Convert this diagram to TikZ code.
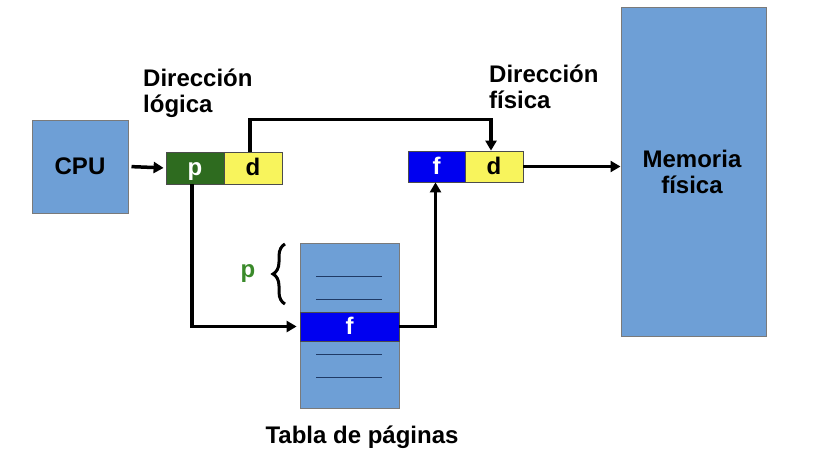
\documentclass[tikz,border=0pt]{standalone}
\usepackage{fontspec}
\setmainfont{Liberation Sans}
\usetikzlibrary{arrows.meta,decorations.pathreplacing}
\definecolor{boxblue}{HTML}{6E9FD6}
\definecolor{boxedge}{HTML}{7A7A7A}
\definecolor{pgreen}{HTML}{2E6B1F}
\definecolor{dyellow}{HTML}{F8F45C}
\definecolor{fblue}{HTML}{0000F0}
\definecolor{rowline}{HTML}{1F3A66}
\definecolor{lblgreen}{HTML}{3A8A2A}
\tikzset{
  big/.style={font=\fontsize{24}{26}\selectfont\bfseries},
  bluebox/.style={draw=boxedge, line width=1pt, fill=boxblue, inner sep=0pt},
  cell/.style={draw=black!70, line width=0.8pt, minimum width=58pt, minimum height=32pt, inner sep=0pt, big, text height=17pt, text depth=2pt},
  conn/.style={line width=3.5pt, black},
  arr/.style={conn, -{Triangle[length=10pt,width=11pt]}},
  lbl/.style={big, inner sep=0pt, align=left}
}
\begin{document}
\begin{tikzpicture}[x=1pt,y=-1pt]
\useasboundingbox (0,0) rectangle (820,466);
% boxes
\node[bluebox, minimum width=96pt, minimum height=93pt, big] (cpu) at (80,166.5) {CPU};
\node[bluebox, minimum width=145pt, minimum height=329pt] (mem) at (693.5,171.5) {};
\node[big, align=center, inner sep=0pt] (memlbl) at (692,172) {Memoria\\física};
\node[cell, fill=pgreen, text=white] (lp) at (195,168) {p};
\node[cell, fill=dyellow] (ld) at (253,168) {d};
\node[cell, fill=fblue, text=white, minimum width=57pt, minimum height=31pt] (pf) at (436.5,166.5) {f};
\node[cell, fill=dyellow, minimum height=31pt] (pd) at (494,166.5) {d};
% page table
\node[bluebox, minimum width=99pt, minimum height=165pt] (tab) at (349.5,325.5) {};
\node[cell, fill=fblue, text=white, minimum width=99pt, minimum height=29pt] (frow) at (349.5,326.5) {f};
\foreach \yy in {276,299,354,377} \draw[rowline, line width=1pt] (316,\yy) -- (382,\yy);
\node[big, anchor=north, inner sep=0pt] (tablbl) at (362,426) {Tabla de páginas};
% labels
\node[lbl, anchor=north west] (logl) at (143,69) {Dirección\\lógica};
\node[lbl, anchor=north west] (fisl) at (489,65) {Dirección\\física};
% brace
\draw[line width=3pt, decorate, decoration={brace, amplitude=12pt}] (285,304) -- (285,244);
\node[big, text=lblgreen, inner sep=0pt] (pl) at (248,274) {p};
% connectors
\draw[arr, shorten <=3pt, shorten >=2pt] (cpu.east) -- (lp.west);
\draw[arr] ([xshift=-3pt]ld.north) -- ++(0,-32) -| ([xshift=-3pt]pd.north);
\draw[arr, shorten >=3pt] ([xshift=-3pt]lp.south) |- (frow.west);
\draw[arr] (frow.east) -| ([xshift=-1pt]pf.south);
\draw[arr] (pd.east) -- (pd.east -| mem.west);
\end{tikzpicture}
\end{document}
